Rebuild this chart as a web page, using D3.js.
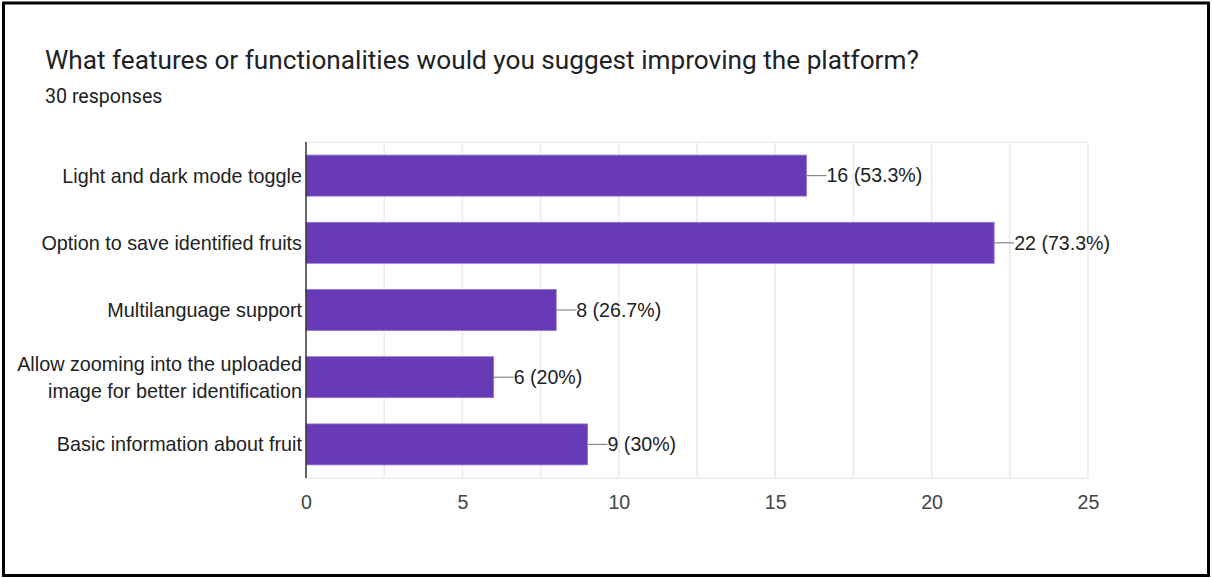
<!DOCTYPE html>
<html>
<head>
<meta charset="utf-8">
<script src="https://cdn.jsdelivr.net/npm/d3@7"></script>
<style>
  html, body { margin: 0; padding: 0; background: #fff; }
  svg { display: block; }
</style>
</head>
<body>
<svg id="chart" width="1212" height="578"></svg>
<script>
// Survey question, response count and answers
const title = "What features or functionalities would you suggest improving the platform?";
const subtitle = "30 responses";
const categories = [
  ["Light and dark mode toggle"],
  ["Option to save identified fruits"],
  ["Multilanguage support"],
  ["Allow zooming into the uploaded", "image for better identification"],
  ["Basic information about fruit"]
];
const counts = [16, 22, 8, 6, 9];
const percents = ["53.3%", "73.3%", "26.7%", "20%", "30%"];
const xTicks = [0, 5, 10, 15, 20, 25];
const gridValues = [2.5, 5, 7.5, 10, 12.5, 15, 17.5, 20, 22.5, 25];

const svg = d3.select("#chart");
const W = 1212, H = 578;
const labelFont = "Arial, 'Liberation Sans', sans-serif";
const labelSize = 19.6;

// outer frame
svg.append("rect")
  .attr("x", 3.5).attr("y", 3).attr("width", W - 7).attr("height", H - 5.5)
  .attr("fill", "#fff").attr("stroke", "#000").attr("stroke-width", 3);

svg.append("text")
  .attr("x", 45).attr("y", 69)
  .attr("font-family", "Roboto, sans-serif").attr("font-size", 26.2)
  .attr("fill", "#202124")
  .text(title);

svg.append("text")
  .attr("x", 45).attr("y", 103)
  .attr("font-family", "Roboto, sans-serif").attr("font-size", 19.6)
  .attr("fill", "#202124")
  .text(subtitle);

const plot = { left: 306, right: 1088, top: 142, bottom: 478 };

const x = d3.scaleLinear().domain([0, 25]).range([plot.left, plot.right]);
const y = d3.scaleBand()
  .domain(d3.range(categories.length))
  .range([plot.top, plot.bottom])
  .paddingInner(0.39).paddingOuter(0.195);

// vertical gridlines
svg.append("g").selectAll("line").data(gridValues).join("line")
  .attr("x1", d => x(d)).attr("x2", d => x(d))
  .attr("y1", plot.top).attr("y2", plot.bottom)
  .attr("stroke", "#ebebeb").attr("stroke-width", 1.5);

// top and bottom frame of plot area
svg.append("g").selectAll("line").data([plot.top, plot.bottom]).join("line")
  .attr("x1", plot.left).attr("x2", plot.right)
  .attr("y1", d => d).attr("y2", d => d)
  .attr("stroke", "#ebebeb").attr("stroke-width", 1.5);

// bars
svg.append("g").selectAll("rect").data(counts).join("rect")
  .attr("x", x(0))
  .attr("y", (d, i) => y(i))
  .attr("width", d => x(d) - x(0))
  .attr("height", y.bandwidth())
  .attr("fill", "#673ab7")
  .attr("stroke", "#9575cd").attr("stroke-width", 0.8);

// value leaders and labels
const labels = svg.append("g");
counts.forEach((d, i) => {
  const cy = y(i) + y.bandwidth() / 2;
  labels.append("line")
    .attr("x1", x(d)).attr("x2", x(d) + 20)
    .attr("y1", cy).attr("y2", cy)
    .attr("stroke", "#888").attr("stroke-width", 1.2);
  labels.append("text")
    .attr("x", x(d) + 20).attr("y", cy)
    .attr("dy", "0.35em")
    .attr("font-family", labelFont).attr("font-size", labelSize)
    .attr("fill", "#222")
    .text(`${d} (${percents[i]})`);
});

// y axis line
svg.append("line")
  .attr("x1", plot.left).attr("x2", plot.left)
  .attr("y1", plot.top).attr("y2", plot.bottom)
  .attr("stroke", "#333").attr("stroke-width", 1.5);

// category labels
const cat = svg.append("g");
categories.forEach((lines, i) => {
  const cy = y(i) + y.bandwidth() / 2;
  const lh = 27;
  const t = cat.append("text")
    .attr("text-anchor", "end")
    .attr("font-family", labelFont).attr("font-size", labelSize + 0.2)
    .attr("fill", "#222");
  lines.forEach((s, j) => {
    t.append("tspan")
      .attr("x", plot.left - 4)
      .attr("y", cy + (j - (lines.length - 1) / 2) * lh)
      .attr("dy", "0.35em")
      .text(s);
  });
});

// x axis tick labels
const xAxis = d3.axisBottom(x).tickValues(xTicks).tickSize(0).tickPadding(17);
const gx = svg.append("g").attr("transform", `translate(0,${plot.bottom})`).call(xAxis);
gx.select(".domain").remove();
gx.selectAll("text")
  .attr("font-family", labelFont).attr("font-size", labelSize)
  .attr("fill", "#444");
</script>
</body>
</html>
